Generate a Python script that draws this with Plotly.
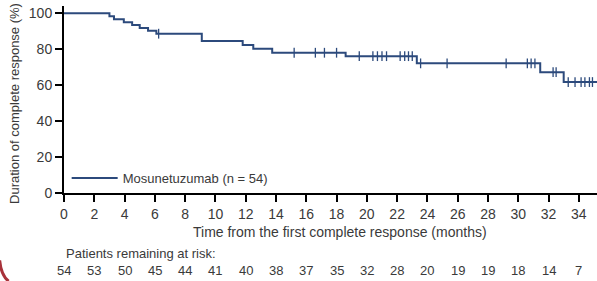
import numpy as np
import plotly.graph_objects as go

# Kaplan-Meier step data (time in months, % remaining in CR)
step_times = [0, 3.0, 3.3, 3.95, 4.5, 5.0, 5.55, 6.1, 9.1, 11.8, 12.5, 13.75, 18.6, 23.3, 31.45, 33.0]
step_surv = [100, 98.3, 96.7, 95.0, 93.4, 91.8, 90.2, 88.6, 84.6, 82.3, 80.2, 78.0, 76.1, 72.1, 67.2, 61.7]
end_time = 35.2

censor_times = [6.25, 15.2, 16.6, 17.2, 18.0, 19.5, 20.4, 20.7, 21.0, 21.3, 22.2, 22.5, 22.75, 23.0,
                23.55, 25.3, 29.2, 30.6, 30.85, 31.1, 32.3, 32.5, 33.3, 33.75, 34.15, 34.4, 34.7, 34.9]

risk_times = list(range(0, 35, 2))
risk_counts = [54, 53, 50, 45, 44, 41, 40, 38, 37, 35, 32, 28, 20, 19, 19, 18, 14, 7]

x_ticks = list(range(0, 35, 2))
y_ticks = [0, 20, 40, 60, 80, 100]

LINE = "#2c4a7c"
TXT = "#3a3a3a"
FONT = "Liberation Sans Narrow, Arial Narrow, Liberation Sans, sans-serif"

xs = step_times + [end_time]
ys = step_surv + [step_surv[-1]]

idx = np.searchsorted(np.array(step_times), np.array(censor_times), side="right") - 1
censor_y = [step_surv[i] for i in idx]

fig = go.Figure()
fig.add_trace(go.Scatter(x=xs, y=ys, mode="lines", line=dict(color=LINE, width=2, shape="hv"),
                         name="Mosunetuzumab (n = 54)", showlegend=True, cliponaxis=False))
fig.add_trace(go.Scatter(x=censor_times, y=censor_y, mode="markers",
                         marker=dict(symbol="line-ns", size=7, line=dict(color=LINE, width=1.3)),
                         showlegend=False, cliponaxis=False))

annotations = []
for t, c in zip(risk_times, risk_counts):
    annotations.append(dict(x=t, y=-0.415, xref="x", yref="paper", text=str(c), showarrow=False,
                            xanchor="center", yanchor="middle", font=dict(size=13, color=TXT, family=FONT)))
annotations.append(dict(x=0, y=-0.322, xref="x", yref="paper", text="Patients remaining at risk:",
                        showarrow=False, xanchor="left", yanchor="middle",
                        font=dict(size=13, color=TXT, family=FONT)))
annotations.append(dict(x=18.2, y=-0.208, xref="x", yref="paper",
                        text="Time from the first complete response (months)", showarrow=False,
                        xanchor="center", yanchor="middle", font=dict(size=14, color=TXT, family=FONT)))
annotations.append(dict(x=-0.0925, y=0.48, xref="paper", yref="paper", textangle=-90,
                        text="Duration of complete response (%)", showarrow=False,
                        xanchor="center", yanchor="middle", font=dict(size=13, color=TXT, family=FONT)))

fig.update_layout(
    width=597, height=281,
    margin=dict(l=64, r=0, t=6, b=88, autoexpand=False),
    paper_bgcolor="white", plot_bgcolor="white",
    font=dict(family=FONT, color=TXT, size=13),
    annotations=annotations,
    legend=dict(x=0.005, y=0.08, xanchor="left", yanchor="middle", bgcolor="rgba(0,0,0,0)",
                itemwidth=46, font=dict(size=13, color=TXT, family=FONT)),
    shapes=[dict(type="path", xref="paper", yref="paper",
                 path="M -0.1207,-0.36 Q -0.118,-0.44 -0.104,-0.4717",
                 line=dict(color="#a8323a", width=3))],
)
fig.update_xaxes(range=[0, end_time], tickvals=x_ticks, showline=True, linecolor="black", linewidth=2,
                 ticks="outside", ticklen=7, tickwidth=1.5, tickcolor="black", showgrid=False,
                 zeroline=False, automargin=False, tickfont=dict(size=14, color=TXT, family=FONT))
fig.update_yaxes(range=[0, 104], tickvals=y_ticks, showline=True, linecolor="black", linewidth=2,
                 ticks="outside", ticklen=7, tickwidth=1.5, tickcolor="black", showgrid=False,
                 zeroline=False, automargin=False, tickfont=dict(size=14, color=TXT, family=FONT))

fig.write_html("out.html", config={"displayModeBar": False},
               post_script="document.body.style.margin='0';document.body.style.overflow='hidden';")
